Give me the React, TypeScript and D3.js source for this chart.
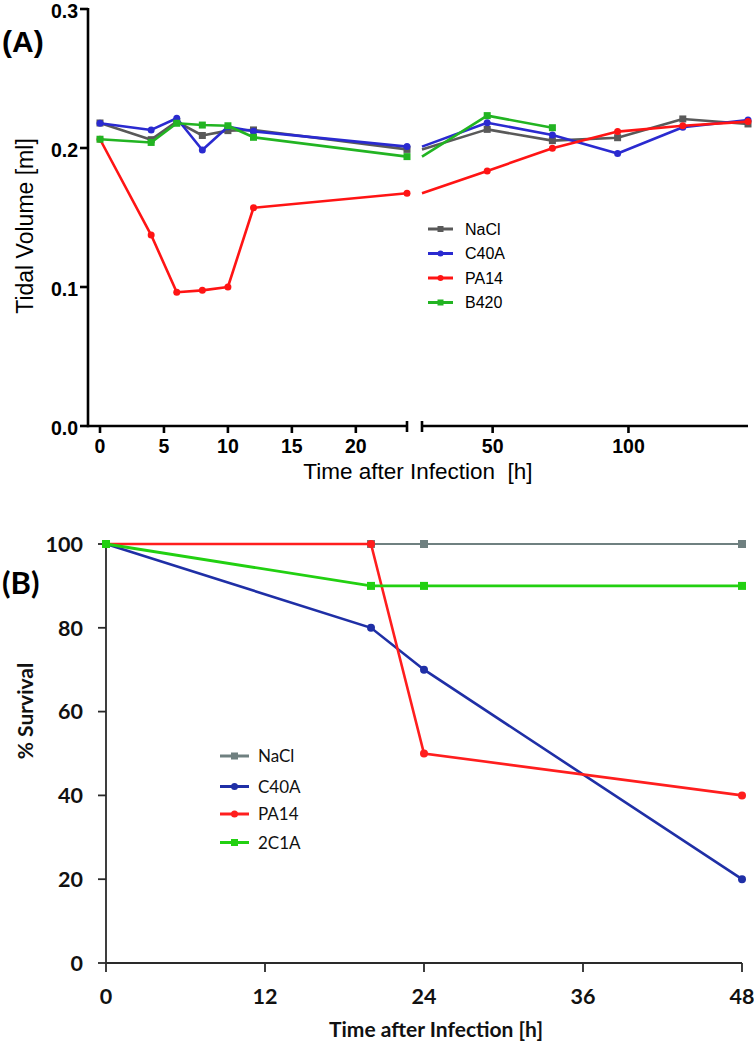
import React from 'react';
import * as d3 from 'd3';

// ---------- Panel A data ----------
const timesA = [0, 4, 6, 8, 10, 12, 24, 48, 72, 96, 120, 144];
const naclA = [0.218, 0.206, 0.219, 0.209, 0.2125, 0.213, 0.199, 0.2134, 0.2053, 0.2074, 0.2209, 0.2173];
const c40aA = [0.2178, 0.213, 0.2214, 0.1986, 0.2153, 0.212, 0.201, 0.2182, 0.2094, 0.196, 0.2149, 0.2201];
const pa14A = [0.2063, 0.1374, 0.0962, 0.0976, 0.1, 0.157, 0.1674, 0.1835, 0.1998, 0.2118, 0.216, 0.219];
const b420A = [0.2063, 0.204, 0.2178, 0.2165, 0.216, 0.2077, 0.1938, 0.2233, 0.2146, null, null, null];
const yTicksA = [0, 0.1, 0.2, 0.3];
const xTicksA1 = [0, 5, 10, 15, 20];
const xTicksA2 = [50, 100];
const namesA = ['NaCl', 'C40A', 'PA14', 'B420'];

// ---------- Panel B data ----------
const timesB = [0, 20, 24, 48];
const naclB = [100, 100, 100, 100];
const c40aB = [100, 80, 70, 20];
const pa14B = [100, 100, 50, 40];
const c1aB = [100, 90, 90, 90];
const yTicksB = [0, 20, 40, 60, 80, 100];
const xTicksB = [0, 12, 24, 36, 48];
const namesB = ['NaCl', 'C40A', 'PA14', '2C1A'];

const FONT_A = "'Liberation Sans', Arial, sans-serif";
const FONT_B = "Lato, 'Open Sans', sans-serif";

type Shape = 'circle' | 'square';

function Marker({ x, y, shape, color, size }: { x: number; y: number; shape: Shape; color: string; size: number }) {
  if (shape === 'circle') return <circle cx={x} cy={y} r={size / 2} fill={color} />;
  return <rect x={x - size / 2} y={y - size / 2} width={size} height={size} fill={color} />;
}

function PanelA() {
  const xA1 = d3.scaleLinear().domain([0, 24]).range([100, 407]);
  const xA2 = d3.scaleLinear().domain([24, 144]).range([422, 748]);
  const yA = d3.scaleLinear().domain([0, 0.3]).range([426, 9]);
  const axisY = 426;
  const axisX = 88;

  const series = [
    { name: namesA[0], vals: naclA, color: '#595959', shape: 'square' as Shape },
    { name: namesA[1], vals: c40aA, color: '#2a2ad0', shape: 'circle' as Shape },
    { name: namesA[2], vals: pa14A, color: '#ff1414', shape: 'circle' as Shape },
    { name: namesA[3], vals: b420A, color: '#22b422', shape: 'square' as Shape },
  ];

  const mk = (sc: d3.ScaleLinear<number, number>) =>
    d3
      .line<[number, number | null]>()
      .defined((d) => d[1] !== null)
      .x((d) => sc(d[0]))
      .y((d) => yA(d[1] as number));

  return (
    <g>
      <text x={2} y={52} fontFamily={FONT_A} fontWeight="bold" fontSize={30} fill="#000">(A)</text>
      {/* axes */}
      <g stroke="#000" strokeWidth={2.6} fill="none">
        <line x1={axisX} y1={yA(0.3) - 1} x2={axisX} y2={axisY + 1.3} />
        <line x1={axisX} y1={axisY} x2={xA1(24)} y2={axisY} />
        <line x1={xA1(24)} y1={axisY - 5} x2={xA1(24)} y2={axisY + 6} />
        <line x1={xA2(24)} y1={axisY - 5} x2={xA2(24)} y2={axisY + 6} />
        <line x1={xA2(24)} y1={axisY} x2={748} y2={axisY} />
        {yTicksA.map((t) => (
          <line key={'yt' + t} x1={axisX - 8} y1={yA(t)} x2={axisX} y2={yA(t)} />
        ))}
        {xTicksA1.map((t) => (
          <line key={'xt1' + t} x1={xA1(t)} y1={axisY} x2={xA1(t)} y2={axisY + 7} />
        ))}
        {xTicksA2.map((t) => (
          <line key={'xt2' + t} x1={xA2(t)} y1={axisY} x2={xA2(t)} y2={axisY + 7} />
        ))}
      </g>
      <g fontFamily={FONT_A} fontWeight="bold" fontSize={19.5} fill="#000">
        {yTicksA.map((t) => (
          <text key={'yl' + t} x={78} y={yA(t) + 2} dy="0.36em" textAnchor="end">{t.toFixed(1)}</text>
        ))}
        {xTicksA1.map((t) => (
          <text key={'xl1' + t} x={xA1(t)} y={453} textAnchor="middle">{t}</text>
        ))}
        {xTicksA2.map((t) => (
          <text key={'xl2' + t} x={xA2(t)} y={453} textAnchor="middle">{t}</text>
        ))}
      </g>
      <text x={418} y={479} fontFamily={FONT_A} fontSize={22.5} textAnchor="middle" fill="#000" xmlSpace="preserve">Time after Infection  [h]</text>
      <text transform="translate(33,226) rotate(-90)" fontFamily={FONT_A} fontSize={23} textAnchor="middle" fill="#000">Tidal Volume [ml]</text>
      {/* series */}
      {series.map((s) => {
        const pts: [number, number | null][] = timesA.map((t, i) => [t, s.vals[i]]);
        const seg1 = pts.filter((p) => p[0] <= 24);
        const seg2 = pts.filter((p) => p[0] >= 24);
        return (
          <g key={s.name}>
            <path d={mk(xA1)(seg1) || ''} fill="none" stroke={s.color} strokeWidth={2.6} strokeLinejoin="round" />
            <path d={mk(xA2)(seg2) || ''} fill="none" stroke={s.color} strokeWidth={2.6} strokeLinejoin="round" />
            {seg1.filter((p) => p[1] !== null).map((p) => (
              <Marker key={'a' + p[0]} x={xA1(p[0])} y={yA(p[1] as number)} shape={s.shape} color={s.color} size={7} />
            ))}
            {seg2.filter((p) => p[1] !== null && p[0] > 24).map((p) => (
              <Marker key={'b' + p[0]} x={xA2(p[0])} y={yA(p[1] as number)} shape={s.shape} color={s.color} size={7} />
            ))}
          </g>
        );
      })}
      {/* legend */}
      {series.map((s, i) => {
        const y = 229 + i * 24.5;
        return (
          <g key={'lg' + s.name}>
            <line x1={428} x2={453} y1={y} y2={y} stroke={s.color} strokeWidth={3} />
            <Marker x={440.5} y={y} shape={s.shape} color={s.color} size={6} />
            <text x={465} y={y} dy="0.36em" fontFamily={FONT_A} fontSize={16} fill="#000">{s.name}</text>
          </g>
        );
      })}
    </g>
  );
}

function PanelB() {
  const xB = d3.scaleLinear().domain([0, 48]).range([106, 742]);
  const yB = d3.scaleLinear().domain([0, 100]).range([963, 544]);
  const axisY = 963;
  const axisX = 106;

  const series = [
    { name: namesB[0], vals: naclB, color: '#6f8080', shape: 'square' as Shape, w: 2.2 },
    { name: namesB[1], vals: c40aB, color: '#1f2fa6', shape: 'circle' as Shape, w: 2.6 },
    { name: namesB[2], vals: pa14B, color: '#ff1e1e', shape: 'circle' as Shape, w: 2.6 },
    { name: namesB[3], vals: c1aB, color: '#22d011', shape: 'square' as Shape, w: 2.8 },
  ];
  const line = d3
    .line<[number, number]>()
    .x((d) => xB(d[0]))
    .y((d) => yB(d[1]));

  return (
    <g>
      <text x={2} y={594} fontFamily={FONT_B} fontWeight="bold" fontSize={31} fill="#000">(B)</text>
      <g stroke="#2a2a2a" strokeWidth={1.8}>
        <line x1={axisX} y1={yB(100)} x2={axisX} y2={axisY} />
        <line x1={axisX} y1={axisY} x2={xB(48)} y2={axisY} />
        {yTicksB.map((t) => (
          <line key={'yt' + t} x1={axisX - 8} y1={yB(t)} x2={axisX} y2={yB(t)} />
        ))}
        {xTicksB.map((t) => (
          <line key={'xt' + t} x1={xB(t)} y1={axisY} x2={xB(t)} y2={axisY + 9} />
        ))}
      </g>
      <g fontFamily={FONT_B} fontWeight="bold" fontSize={21.5} fill="#111">
        {yTicksB.map((t) => (
          <text key={'yl' + t} x={83} y={yB(t)} dy="0.36em" textAnchor="end">{t}</text>
        ))}
        {xTicksB.map((t) => (
          <text key={'xl' + t} x={xB(t)} y={1004} textAnchor="middle">{t}</text>
        ))}
      </g>
      <text x={436} y={1037} fontFamily={FONT_B} fontWeight="bold" fontSize={21} textAnchor="middle" fill="#111">Time after Infection [h]</text>
      <text transform="translate(33,711) rotate(-90)" fontFamily={FONT_B} fontWeight="bold" fontSize={21} textAnchor="middle" fill="#111">% Survival</text>
      {series.map((s) => {
        const pts: [number, number][] = timesB.map((t, i) => [t, s.vals[i]]);
        return (
          <g key={s.name}>
            <path d={line(pts) || ''} fill="none" stroke={s.color} strokeWidth={s.w} />
            {pts.map((p) => (
              <Marker key={p[0]} x={xB(p[0])} y={yB(p[1])} shape={s.shape} color={s.color} size={8} />
            ))}
          </g>
        );
      })}
      {series.map((s, i) => {
        const ys = [756, 786.5, 814, 842.5];
        const y = ys[i];
        return (
          <g key={'lg' + s.name}>
            <line x1={220} x2={249} y1={y} y2={y} stroke={s.color} strokeWidth={3} />
            <Marker x={234.5} y={y} shape={s.shape} color={s.color} size={7} />
            <text x={258} y={y} dy="0.36em" fontFamily={FONT_B} fontSize={17} fill="#111">{s.name}</text>
          </g>
        );
      })}
    </g>
  );
}

export default function App() {
  return (
    <svg
      width={754}
      height={1045}
      viewBox="0 0 754 1045"
      style={{ position: 'absolute', left: 0, top: 0, background: '#fff' }}
    >
      <rect width={754} height={1045} fill="#fff" />
      <PanelA />
      <PanelB />
    </svg>
  );
}
